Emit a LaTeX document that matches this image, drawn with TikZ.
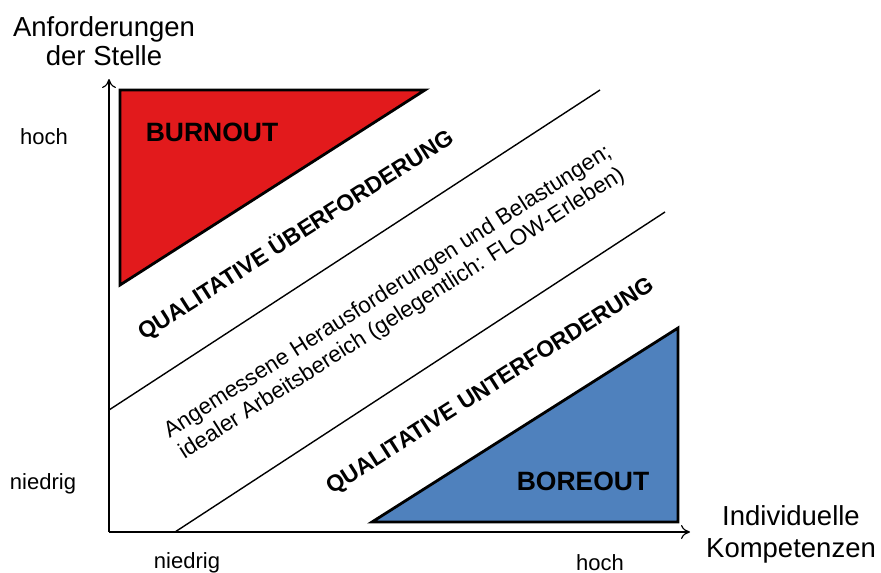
\documentclass[tikz,border=0pt]{standalone}
\usepackage{fontspec}
\setmainfont{Liberation Sans}
\usetikzlibrary{arrows.meta}
\definecolor{burnred}{HTML}{E21A1C}
\definecolor{boreblue}{HTML}{4F81BD}
\begin{document}
\begin{tikzpicture}[x=1pt,y=-1pt,
  axis/.style={line width=1.4pt,-{To[length=9pt,width=14pt,line width=1.2pt]}},
  band/.style={line width=1.4pt},
  zone/.style={line width=2.8pt,line join=miter},
  lbl/.style={font=\fontsize{22}{26}\selectfont,inner sep=0pt},
  title/.style={align=center,inner sep=0pt},
  big/.style={font=\fontsize{26.5}{30}\selectfont\bfseries,inner sep=0pt},
  diag/.style={font=\fontsize{23}{28}\selectfont\bfseries,inner sep=0pt,rotate=32.5},
  mid/.style={font=\fontsize{22.5}{26}\selectfont,align=center,inner sep=0pt,rotate=32.5}]
\useasboundingbox (0,0) rectangle (881,573);
% axes
\coordinate (o) at (109,532);
\coordinate (ytip) at (109,79);
\coordinate (xtip) at (690,532);
\draw[axis] (o) -- (ytip);
\draw[axis] (o) -- (xtip);
% boundaries of the ideal band
\coordinate (u1) at (109,410);
\coordinate (u2) at (600,90);
\coordinate (l1) at (175,532);
\coordinate (l2) at (665,212);
\draw[band] (u1) -- (u2);
\draw[band] (l1) -- (l2);
% burnout and boreout zones
\coordinate (r1) at (120,90);
\coordinate (r2) at (425,90);
\coordinate (r3) at (120,285);
\draw[zone,fill=burnred] (r1) -- (r2) -- (r3) -- cycle;
\coordinate (b1) at (372,522);
\coordinate (b2) at (678,522);
\coordinate (b3) at (678,328);
\draw[zone,fill=boreblue] (b1) -- (b2) -- (b3) -- cycle;
% labels
\node[title,font=\fontsize{27.5}{29}\selectfont] (ytitle) at (104,41) {Anforderungen\\der Stelle};
\node[title,font=\fontsize{27.5}{32}\selectfont] (xtitle) at (791,534) {Individuelle\\Kompetenzen};
\node[lbl] (yhigh) at (44,137) {hoch};
\node[lbl] (ylow) at (43,484) {niedrig};
\node[lbl] (xlow) at (187,563) {niedrig};
\node[lbl] (xhigh) at (600,563) {hoch};
\node[big] (burn) at (212,132) {BURNOUT};
\node[big] (bore) at (583,481) {BOREOUT};
\node[diag] (over) at (296,235) {QUALITATIVE ÜBERFORDERUNG};
\node[diag] (under) at (491,387) {QUALITATIVE UNTERFORDERUNG};
\node[mid] (ideal) at (395,303) {Angemessene Herausforderungen und Belastungen;\\idealer Arbeitsbereich (gelegentlich: FLOW-Erleben)};
\end{tikzpicture}
\end{document}
